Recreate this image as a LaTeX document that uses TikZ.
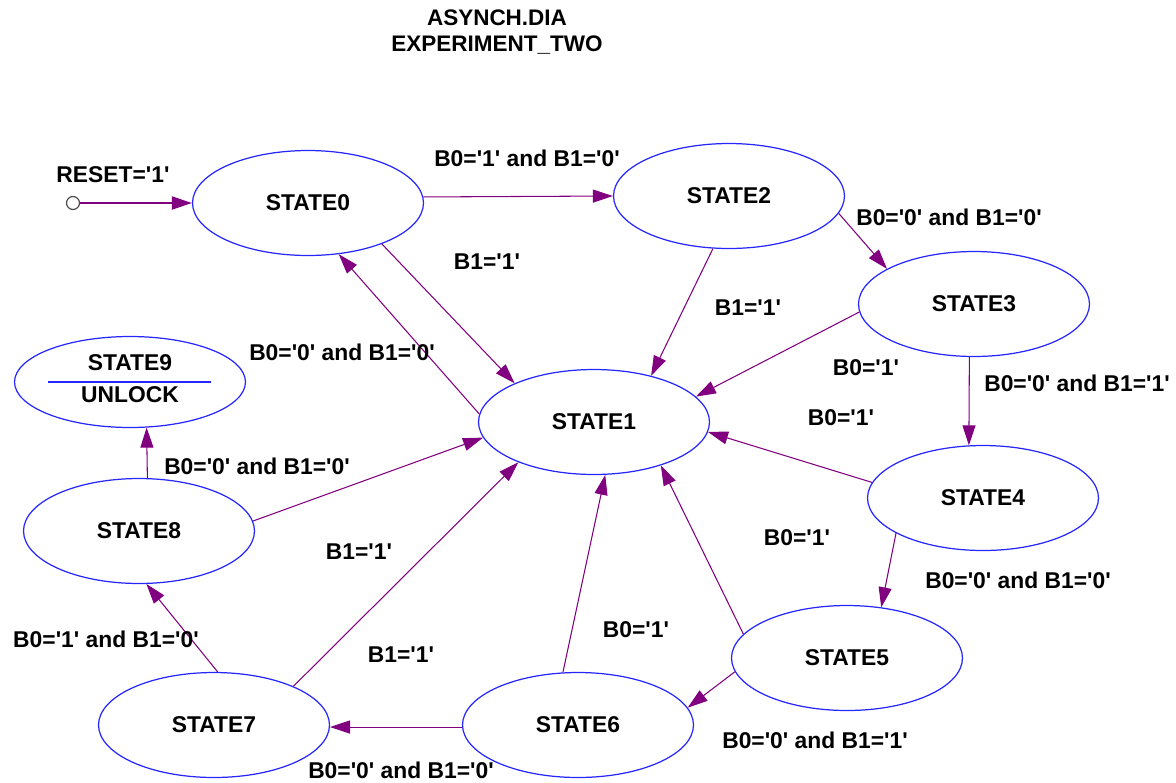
\documentclass[tikz,border=0pt]{standalone}
\usepackage{fontspec}
\newfontfamily\diafont{Liberation Sans}
\usetikzlibrary{shapes.geometric,arrows.meta}

\definecolor{stateblue}{rgb}{0.15,0.15,1}
\definecolor{transpurple}{rgb}{0.5,0,0.5}

\tikzset{
  state/.style={ellipse,draw=stateblue,line width=0.7pt,minimum width=4.62cm,minimum height=2.1cm,inner sep=0pt,font=\diafont\fontsize{13}{15}\selectfont\bfseries},
  trans/.style={draw=transpurple,line width=0.6pt,-{Triangle[length=0.4cm,width=0.26cm]}},
  cond/.style={font=\diafont\fontsize{13}{15}\selectfont\bfseries,inner sep=0pt},
}

\begin{document}
\begin{tikzpicture}[x=0.02cm,y=-0.02cm]
\useasboundingbox (0,0) rectangle (1176,782);
\node[cond,align=center,font=\diafont\fontsize{12.8}{15.3}\selectfont\bfseries] (title) at (497,32) {ASYNCH.DIA\\EXPERIMENT\_TWO};

\node[state] (s0) at (308,203) {STATE0};
\node[state] (s1) at (594,422) {STATE1};
\node[state] (s2) at (729,196) {STATE2};
\node[state] (s3) at (974,304) {STATE3};
\node[state] (s4) at (983,498) {STATE4};
\node[state] (s5) at (847,658) {STATE5};
\node[state] (s6) at (578,725) {STATE6};
\node[state] (s7) at (214,725) {STATE7};
\node[state] (s8) at (139,531) {STATE8};
\node[state,minimum height=1.82cm] (s9) at (130,382) {};
\node[cond] (s9name) at (130,363) {STATE9};
\node[cond] (s9out) at (130,395) {UNLOCK};
\draw[stateblue,line width=0.7pt] ([xshift=0.68cm]s9.west) -- ([xshift=-0.7cm]s9.east);

\node[circle,draw=black!70,line width=0.7pt,minimum size=0.26cm,inner sep=0pt] (rst) at (73,203) {};
\draw[trans,line width=1.1pt] (rst) -- (s0.west);

\draw[trans] (s0.3) -- (s2.180);
\draw[trans] (s2.-9) -- (s3.158);
\draw[trans] (s3.-95) -- (s4.105);
\draw[trans] (s4.202) -- (s5.56);
\draw[trans] (s5.187) -- (s6.9);
\draw[trans] (s6.181) -- (s7.-1);
\draw[trans] (s7.86) -- (s8.-82);
\draw[trans] (s8.81) -- (s9.-70);
\draw[trans] (s0.-29) -- (s1.154);
\draw[trans] (s1.176) -- (s0.-59);
\draw[trans] (s2.-107) -- (s1.39);
\draw[trans] (s3.184) -- (s1.14);
\draw[trans] (s4.172) -- (s1.-5);
\draw[trans] (s5.167) -- (s1.-33);
\draw[trans] (s6.106) -- (s1.-78);
\draw[trans] (s7.26) -- (s1.208);
\draw[trans] (s8.5) -- (s1.188);

\node[cond] (lrst) at (113,175) {RESET='1'};
\node[cond] (l02) at (527,158) {B0='1' and B1='0'};
\node[cond] (l23) at (949,217) {B0='0' and B1='0'};
\node[cond] (l34) at (1077,383) {B0='0' and B1='1'};
\node[cond] (l45) at (1018,580) {B0='0' and B1='0'};
\node[cond] (l56) at (815,740) {B0='0' and B1='1'};
\node[cond] (l67) at (401,770) {B0='0' and B1='0'};
\node[cond] (l78) at (106,639) {B0='1' and B1='0'};
\node[cond] (l89) at (257,466) {B0='0' and B1='0'};
\node[cond] (l01) at (487,262) {B1='1'};
\node[cond] (l10) at (342,352) {B0='0' and B1='0'};
\node[cond] (l21) at (748,308) {B1='1'};
\node[cond] (l31) at (866,368) {B0='1'};
\node[cond] (l41) at (841,418) {B0='1'};
\node[cond] (l51) at (797,538) {B0='1'};
\node[cond] (l61) at (636,630) {B0='1'};
\node[cond] (l71) at (401,655) {B1='1'};
\node[cond] (l81) at (359,552) {B1='1'};
\end{tikzpicture}
\end{document}
